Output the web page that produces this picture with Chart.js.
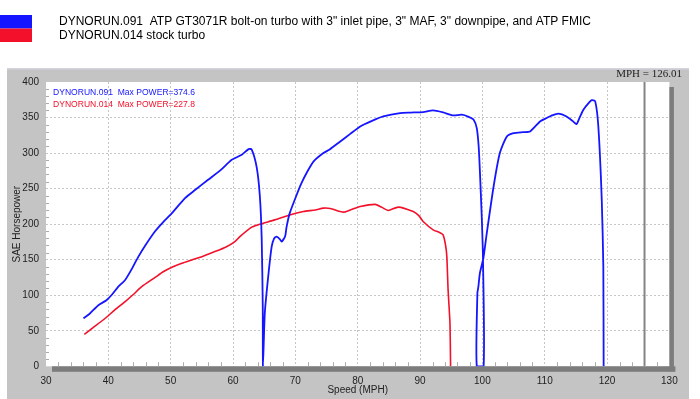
<!DOCTYPE html>
<html>
<head>
<meta charset="utf-8">
<title>Dyno run comparison</title>
<script src="https://cdn.jsdelivr.net/npm/chart.js@4.4.1/dist/chart.umd.min.js"></script>
<style>
  html, body { margin: 0; padding: 0; background: #fff; }
  #wrap { width: 700px; height: 399px; }
</style>
</head>
<body>
<div id="wrap"><canvas id="dynoChart" width="700" height="399"></canvas></div>
<script>
// run .091 - GT3071R (speed in mph, power in SAE hp)
var speed091 = [36.0, 37.0, 38.4, 39.7, 40.6, 41.6, 42.7, 43.7, 44.8, 46.0, 47.5, 48.8, 50.2, 52.3, 53.9, 56.0, 58.0, 59.8, 61.4, 62.5, 63.0, 63.8, 64.3, 64.6, 64.77, 64.8,
    65.1, 65.7, 66.2, 66.6, 67.0, 67.5, 67.8, 68.35, 68.6, 69.1, 70.2, 71.0, 71.8, 72.9, 74.5, 75.5, 77.2, 78.8, 80.4, 82.2, 84.1, 86.8, 88.5, 90.5, 92.1, 93.7, 95.3, 96.7, 97.8, 98.6, 99.1, 99.4, 99.6, 99.9, 100.1, 100.2,
    99.1, 99.2, 99.36, 99.6, 100.16, 100.7, 101.8, 102.8, 103.9, 105.0, 106.5, 107.65, 109.25, 110.3, 111.2, 112.2, 113.5, 114.5, 115.1, 115.6, 116.2, 117.0, 117.55, 118.1, 118.6, 119.15, 119.4, 119.45];
var power091 = [67.6, 74, 86, 93, 101, 112, 121.5, 136, 154, 171, 190, 203, 215.5, 236.6, 248, 262.4, 276, 290.6, 297.6, 305.6, 305, 280, 240, 180, 84, 0,
    75, 131, 168.5, 180, 182.5, 179, 175.5, 182.5, 196.6, 215.5, 241, 258, 272, 288, 300, 305, 316.3, 327, 337.5, 345, 351.5, 356.3, 357, 357.7, 360, 357.2, 353, 354, 351, 347, 335, 310, 275, 210, 150, 0,
    0, 103, 112, 131, 152, 187, 253, 300, 323, 328, 329.5, 330.4, 344.5, 349.3, 353, 355.4, 351.5, 345, 340.8, 350, 361, 370, 374.6, 372.7, 337.5, 234, 140, 0];

// run .014 - stock turbo
var speed014 = [36.15, 37.5, 39.5, 41.0, 42.7, 44.0, 45.35, 47.5, 48.8, 50.2, 51.8, 53.4, 55.2, 57.1, 58.8, 60.3, 61.1, 63.0, 64.3, 66.7, 69.1, 71.3, 73.2, 74.5, 75.6, 77.2, 77.9, 79.0, 80.4, 82.8, 83.8, 84.9, 86.5, 88.9, 89.8, 90.5, 92.1, 93.2, 93.7, 94.1, 94.3, 94.5, 94.8, 94.9];
var power014 = [45, 54, 67.6, 79, 91, 101, 112, 125, 133, 139.4, 145, 149.7, 155, 161.4, 167.5, 175.5, 182.5, 195.8, 200, 206, 213, 217.7, 220, 222.5, 222, 217.7, 217, 220.5, 224.8, 227.8, 224, 219.2, 224, 217.7, 212, 203.7, 192, 188, 185, 170, 154, 107.5, 60.6, 0];

var speedTicks = [30, 40, 50, 60, 70, 80, 90, 100, 110, 120, 130];
var powerTicks = [0, 50, 100, 150, 200, 250, 300, 350, 400];
var runNames = ['DYNORUN.091  ATP GT3071R bolt-on turbo with 3" inlet pipe, 3" MAF, 3" downpipe, and ATP FMIC', 'DYNORUN.014 stock turbo'];
var maxPower = [374.6, 227.8];
var cursorMph = 126.01;

var BLUE = '#1515ff', RED = '#f2102a';
var SANS = '"Liberation Sans", Arial, sans-serif';

function toPoints(xs, ys) {
    var pts = [];
    for (var i = 0; i < xs.length; i++) {
        pts.push({ x: xs[i], y: ys[i] });
    }
    return pts;
}

// panel, shadows, header legend and the little extras WinPEP draws
var dynoFrame = {
    id: 'dynoFrame',
    beforeDraw: function (chart) {
        var ctx = chart.ctx, a = chart.chartArea;
        ctx.save();
        ctx.fillStyle = '#fff';
        ctx.fillRect(0, 0, chart.width, chart.height);

        // gray panel
        ctx.fillStyle = '#c4c4c4';
        ctx.fillRect(7, 69, 682, 330);
        ctx.fillStyle = '#d4d4dc';
        ctx.fillRect(7, 68, 682, 1.5);

        // plot area + drop shadow
        ctx.fillStyle = '#fff';
        ctx.fillRect(a.left, a.top, a.right - a.left, a.bottom - a.top);
        ctx.fillStyle = '#7c7c7c';
        ctx.fillRect(a.left + 6, a.bottom, a.right - a.left, 5.5);
        ctx.fillRect(a.right, a.top + 5, 4.5, a.bottom - a.top);

        // header legend
        var colors = [BLUE, RED];
        for (var i = 0; i < runNames.length; i++) {
            ctx.fillStyle = colors[i];
            ctx.fillRect(0, 15 + i * 13.5, 32, 13.5);
            ctx.fillStyle = '#000';
            ctx.font = '12px ' + SANS;
            ctx.textBaseline = 'middle';
            ctx.textAlign = 'left';
            if (i === 0) {
                ctx.fillText(runNames[i], 59, 21.5, 544);
            } else {
                ctx.fillText(runNames[i], 59, 35.5);
            }
        }

        // cursor readout
        ctx.fillStyle = '#222';
        ctx.font = '11px "Liberation Serif", "Times New Roman", serif';
        ctx.textAlign = 'right';
        ctx.fillText('MPH = ' + cursorMph.toFixed(2), 682, 74.5);
        ctx.restore();
    },
    beforeDatasetsDraw: function (chart) {
        var ctx = chart.ctx, a = chart.chartArea;
        var xs = chart.scales.x, ys = chart.scales.y;
        ctx.save();
        ctx.strokeStyle = '#aaa';
        ctx.lineWidth = 1;
        ctx.beginPath();
        for (var m = 32; m < 130; m += 2) {
            if (m % 10 === 0) continue;
            var px = Math.round(xs.getPixelForValue(m)) + 0.5;
            ctx.moveTo(px, a.bottom - 4);
            ctx.lineTo(px, a.bottom);
        }
        for (var h = 10; h < 400; h += 10) {
            if (h % 50 === 0) continue;
            var py = Math.round(ys.getPixelForValue(h)) + 0.5;
            ctx.moveTo(a.left, py);
            ctx.lineTo(a.left + 3, py);
        }
        ctx.stroke();

        // cursor line
        var cx = xs.getPixelForValue(cursorMph);
        ctx.strokeStyle = '#858585';
        ctx.lineWidth = 2;
        ctx.beginPath();
        ctx.moveTo(cx, a.top);
        ctx.lineTo(cx, a.bottom);
        ctx.stroke();
        ctx.restore();
    },
    afterDatasetsDraw: function (chart) {
        var ctx = chart.ctx, a = chart.chartArea;
        var colors = [BLUE, RED];
        var names = ['DYNORUN.091', 'DYNORUN.014'];
        ctx.save();
        ctx.font = '9.5px ' + SANS;
        ctx.textBaseline = 'middle';
        ctx.textAlign = 'left';
        for (var i = 0; i < names.length; i++) {
            ctx.fillStyle = colors[i];
            ctx.fillText(names[i] + '  Max POWER=' + maxPower[i].toFixed(1), a.left + 7, a.top + 10 + i * 12, 142);
        }
        ctx.restore();
    }
};

var ctx = document.getElementById('dynoChart').getContext('2d');

var dynoChart = new Chart(ctx, {
    type: 'scatter',
    data: {
        datasets: [{
            label: 'DYNORUN.091',
            data: toPoints(speed091, power091),
            borderColor: BLUE,
            borderWidth: 1.8,
            showLine: true,
            pointRadius: 0,
            tension: 0.2
        }, {
            label: 'DYNORUN.014',
            data: toPoints(speed014, power014),
            borderColor: RED,
            borderWidth: 1.6,
            showLine: true,
            pointRadius: 0,
            tension: 0.2
        }]
    },
    options: {
        responsive: false,
        animation: false,
        layout: { padding: { top: 82, right: 30.6, left: 0, bottom: 0 } },
        plugins: {
            legend: { display: false },
            tooltip: { enabled: false }
        },
        scales: {
            x: {
                type: 'linear',
                min: 30,
                max: 130,
                afterBuildTicks: function (scale) {
                    scale.ticks = speedTicks.map(function (v) { return { value: v }; });
                },
                afterFit: function (scale) { scale.height = 32.7; },
                ticks: { color: '#222', padding: 9, font: { family: SANS, size: 10 } },
                grid: {
                    drawTicks: false,
                    color: function (c) {
                        return (c.tick && (c.tick.value === 30 || c.tick.value === 130)) ? 'rgba(0,0,0,0)' : '#c6c6c6';
                    }
                },
                border: { display: false, dash: [2, 2] },
                title: { display: true, text: 'Speed (MPH)', color: '#222', font: { family: SANS, size: 10 }, padding: { top: 0, bottom: 3 } }
            },
            y: {
                min: 0,
                max: 400,
                afterBuildTicks: function (scale) {
                    scale.ticks = powerTicks.map(function (v) { return { value: v }; });
                },
                afterFit: function (scale) { scale.width = 46; },
                ticks: { color: '#222', padding: 7, font: { family: SANS, size: 10 } },
                grid: {
                    drawTicks: false,
                    color: function (c) {
                        return (c.tick && (c.tick.value === 0 || c.tick.value === 400)) ? 'rgba(0,0,0,0)' : '#c6c6c6';
                    }
                },
                border: { display: false, dash: [2, 2] },
                title: { display: true, text: 'SAE Horsepower', color: '#222', font: { family: SANS, size: 10 }, padding: { top: 11, bottom: 0 } }
            }
        }
    },
    plugins: [dynoFrame]
});
</script>
</body>
</html>
